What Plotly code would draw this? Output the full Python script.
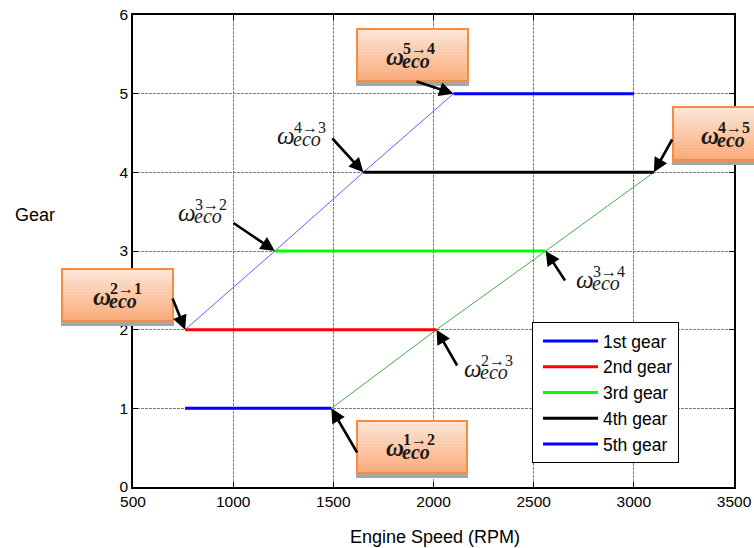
import plotly.graph_objects as go

# ---- data -------------------------------------------------------------
gear_names = ["1st gear", "2nd gear", "3rd gear", "4th gear", "5th gear"]
gear_levels = [1, 2, 3, 4, 5]
gear_rpm_start = [760, 760, 1208, 1650, 2100]
gear_rpm_end = [1490, 2015, 2560, 3100, 3000]
gear_colors = ["#0000ff", "#ff0000", "#00ff00", "#000000", "#0000ff"]

# eco up-shift points (gear n -> n+1) and down-shift points (gear n+1 -> n)
upshift_rpm = [1490, 2015, 2560, 3100]
upshift_gear = [1, 2, 3, 4]
downshift_rpm = [760, 1208, 1650, 2100]
downshift_gear = [2, 3, 4, 5]

x_ticks = [500, 1000, 1500, 2000, 2500, 3000, 3500]
y_ticks = [0, 1, 2, 3, 4, 5, 6]

# ---- geometry helpers (pixel <-> paper) -------------------------------
W, H = 754, 548
L, R, T, B = 133, 734, 15, 487
XMIN, XMAX, YMIN, YMAX = 500, 3500, 0, 6


def dpx(x):
    return L + (x - XMIN) / (XMAX - XMIN) * (R - L)


def dpy(y):
    return B - (y - YMIN) / (YMAX - YMIN) * (B - T)


def pxx(px):
    return (px - L) / (R - L)


def pxy(py):
    return (B - py) / (B - T)


fig = go.Figure()

# thin shift-path lines
fig.add_trace(go.Scatter(x=upshift_rpm, y=upshift_gear, mode="lines",
                         line=dict(color="rgb(70,170,70)", width=1),
                         showlegend=False, hoverinfo="skip"))
fig.add_trace(go.Scatter(x=downshift_rpm, y=downshift_gear, mode="lines",
                         line=dict(color="rgb(95,95,255)", width=1),
                         showlegend=False, hoverinfo="skip"))

# gear operating ranges
for i, name in enumerate(gear_names):
    fig.add_trace(go.Scatter(
        x=[gear_rpm_start[i], gear_rpm_end[i]],
        y=[gear_levels[i], gear_levels[i]],
        mode="lines", name=name, legendgroup=name,
        line=dict(color=gear_colors[i], width=3)))

shapes = []
annotations = []

SERIF = "Liberation Serif, DejaVu Serif, serif"


def omega_label(left, cy, sup, bold=False):
    """ω with the transition superscript stacked over the 'eco' subscript."""
    w = "<i>ω</i>"
    s = sup
    e = "<i>eco</i>"
    if bold:
        w, s, e = "<b>" + w + "</b>", "<b>" + s + "</b>", "<b>" + e + "</b>"
    sub_dy = 2 if bold else 0.5
    for txt, x, y, size in [(w, left - 1, cy - 2.7, 25),
                            (s, left + 16, cy - 10.5, 16),
                            (e, left + 15, cy + sub_dy, 20)]:
        annotations.append(dict(text=txt, xref="paper", yref="paper",
                                x=pxx(x), y=pxy(y), xanchor="left",
                                yanchor="middle", showarrow=False,
                                font=dict(family=SERIF, size=size,
                                          color="#1a1a1a")))


def arrow(tip_x, tip_y, tail_px, tail_py):
    annotations.append(dict(x=tip_x, y=tip_y, xref="x", yref="y",
                            ax=tail_px - dpx(tip_x), ay=tail_py - dpy(tip_y),
                            text="", showarrow=True, arrowhead=2,
                            arrowsize=1.1, arrowwidth=2.6,
                            arrowcolor="black", standoff=0))


def orange_box(x0, y0, x1, y1):
    # drop shadow
    shapes.append(dict(type="rect", xref="paper", yref="paper",
                       x0=pxx(x0 - 1), x1=pxx(x1 + 1),
                       y0=pxy(y1 + 5), y1=pxy(y0 + 5),
                       fillcolor="rgb(165,165,165)", line=dict(width=0),
                       layer="above"))
    # vertical gradient fill, built from thin strips
    n = 18
    top = (253, 230, 217)
    bot = (250, 172, 122)
    for k in range(n):
        f = k / (n - 1)
        c = tuple(round(top[j] + (bot[j] - top[j]) * f) for j in range(3))
        ya = y0 + (y1 - y0) * k / n
        yb = y0 + (y1 - y0) * (k + 1) / n
        shapes.append(dict(type="rect", xref="paper", yref="paper",
                           x0=pxx(x0), x1=pxx(x1), y0=pxy(yb + 0.5),
                           y1=pxy(ya),
                           fillcolor="rgb(%d,%d,%d)" % c,
                           line=dict(width=0), layer="above"))
    shapes.append(dict(type="rect", xref="paper", yref="paper",
                       x0=pxx(x0), x1=pxx(x1), y0=pxy(y1), y1=pxy(y0),
                       line=dict(color="rgb(247,140,65)", width=2),
                       layer="above"))


# boxed (bold) transition labels
orange_box(357, 29, 468, 81)     # 5 -> 4
orange_box(62, 269, 173, 321)    # 2 -> 1
orange_box(357, 421, 467, 473)   # 1 -> 2
orange_box(673, 107, 770, 160)   # 4 -> 5

omega_label(385, 59, "5→4", bold=True)
omega_label(92, 299, "2→1", bold=True)
omega_label(385, 450, "1→2", bold=True)
omega_label(700, 138, "4→5", bold=True)

# plain transition labels
omega_label(276, 138, "4→3")
omega_label(177, 215, "3→2")
omega_label(575, 282, "3→4")
omega_label(463, 371, "2→3")

# arrows pointing at the shift points
arrow(downshift_rpm[3], downshift_gear[3], 415, 81)   # 5->4
arrow(downshift_rpm[0], downshift_gear[0], 172, 297)  # 2->1
arrow(upshift_rpm[0], upshift_gear[0], 358, 454)      # 1->2
arrow(upshift_rpm[3], upshift_gear[3], 673, 138)      # 4->5
arrow(downshift_rpm[2], downshift_gear[2], 331, 137)  # 4->3
arrow(downshift_rpm[1], downshift_gear[1], 232, 222)  # 3->2
arrow(upshift_rpm[2], upshift_gear[2], 566, 282)      # 3->4
arrow(upshift_rpm[1], upshift_gear[1], 458, 367)      # 2->3

SANS = "Liberation Sans, Arial, sans-serif"

# axis titles
annotations.append(dict(text="Gear", xref="paper", yref="paper",
                        x=pxx(35), y=pxy(215), xanchor="center",
                        yanchor="middle", showarrow=False,
                        font=dict(family=SANS, size=18, color="black")))
annotations.append(dict(text="Engine Speed (RPM)", xref="paper", yref="paper",
                        x=pxx(435), y=pxy(537), xanchor="center",
                        yanchor="middle", showarrow=False,
                        font=dict(family=SANS, size=18, color="black")))

axis_common = dict(showline=True, linecolor="black", linewidth=1.5,
                   mirror="ticks", ticks="inside", ticklen=5,
                   tickcolor="black", showgrid=True,
                   gridcolor="rgb(125,125,125)", griddash="3px,1px",
                   gridwidth=1, zeroline=False, automargin=False,
                   tickfont=dict(family=SANS, size=15.5, color="black"))

fig.update_xaxes(range=[XMIN, XMAX], tickvals=x_ticks, ticklabelstandoff=0,
                 **axis_common)
fig.update_yaxes(range=[YMIN, YMAX], tickvals=y_ticks, **axis_common)

fig.update_layout(
    width=W, height=H,
    margin=dict(l=L, r=W - R, t=T, b=H - B, pad=0, autoexpand=False),
    plot_bgcolor="white", paper_bgcolor="white",
    showlegend=True,
    legend=dict(x=pxx(532), y=pxy(322), xanchor="left", yanchor="top",
                bgcolor="white", bordercolor="black", borderwidth=1,
                font=dict(family=SANS, size=17.5, color="black"),
                itemwidth=55, tracegroupgap=0, indentation=5),
    shapes=shapes, annotations=annotations,
)

fig.write_html("out.html")
